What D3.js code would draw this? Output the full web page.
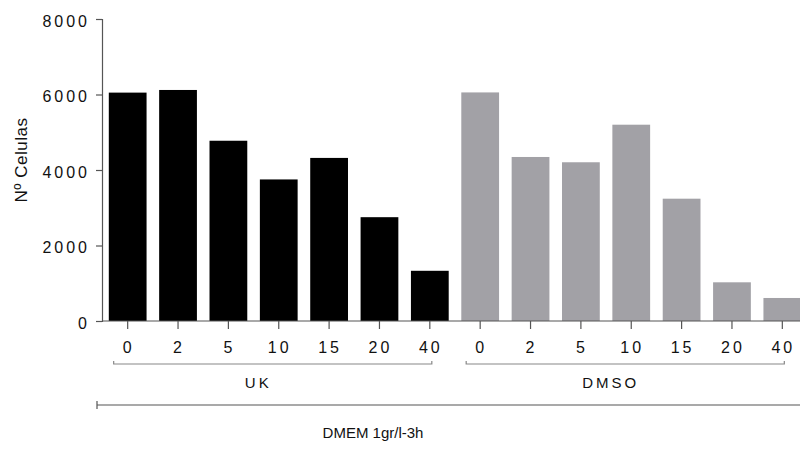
<!DOCTYPE html>
<html>
<head>
<meta charset="utf-8">
<script src="https://cdn.jsdelivr.net/npm/d3@7"></script>
<style>
  body { margin: 0; background: #fff; }
  text { font-family: "Liberation Sans", Arial, sans-serif; fill: #111; }
</style>
</head>
<body>
<svg id="vis" width="800" height="450"></svg>
<script>
// concentrations per treatment group
const doses = ["0", "2", "5", "10", "15", "20", "40"];
const groups = ["UK", "DMSO"];
const uk_values = [6050, 6120, 4775, 3750, 4320, 2750, 1330];
const dmso_values = [6055, 4345, 4205, 5200, 3240, 1025, 610];
const y_ticks = [0, 2000, 4000, 6000, 8000];
const colors = {UK: "#000000", DMSO: "#a2a1a6"};

const rows = [];
groups.forEach(g => {
    const vals = g === "UK" ? uk_values : dmso_values;
    doses.forEach((d, i) => rows.push({group: g, dose: d, key: g + "_" + d, value: vals[i]}));
});

const svg = d3.select("#vis");
const axis_col = "#555";
const font = "'Liberation Sans', Arial, sans-serif";

const x = d3.scaleBand()
    .domain(rows.map(r => r.key))
    .range([102.5, 807.5])
    .paddingInner(0.25)
    .paddingOuter(0.125);

const y = d3.scaleLinear().domain([0, 8000]).range([321, 19]);

svg.selectAll("rect.bar").data(rows)
    .join("rect")
    .attr("class", "bar")
    .attr("x", d => x(d.key))
    .attr("y", d => y(d.value))
    .attr("width", x.bandwidth())
    .attr("height", d => y(0) - y(d.value))
    .attr("fill", d => colors[d.group]);

// y axis
const yaxis = svg.append("g")
    .attr("transform", "translate(102,0)")
    .call(d3.axisLeft(y).tickValues(y_ticks).tickSize(6).tickPadding(6).tickFormat(d3.format("d")));
yaxis.select(".domain").attr("stroke", axis_col).attr("stroke-width", 1.2);
yaxis.selectAll(".tick line").attr("stroke", axis_col).attr("stroke-width", 1.2);
yaxis.selectAll(".tick text")
    .attr("font-size", 16)
    .attr("dy", "0.45em")
    .attr("letter-spacing", "3px")
    .attr("fill", "#111")
    .style("font-family", font);

// x axis
const xaxis = svg.append("g")
    .attr("transform", "translate(0,321)")
    .call(d3.axisBottom(x).tickSize(8).tickPadding(13).tickFormat(k => k.split("_")[1]).tickSizeOuter(0));
xaxis.select(".domain").attr("d", "M102,0H800").attr("stroke", axis_col).attr("stroke-width", 1.2);
xaxis.selectAll(".tick line").attr("stroke", axis_col).attr("stroke-width", 1.2);
xaxis.selectAll(".tick text")
    .attr("font-size", 16)
    .attr("dx", "1px")
    .attr("letter-spacing", "3px")
    .attr("fill", "#111")
    .style("font-family", font);

// group brackets
groups.forEach(g => {
    const keys = rows.filter(r => r.group === g).map(r => r.key);
    const c0 = x(keys[0]) + x.bandwidth() / 2;
    const c1 = x(keys[keys.length - 1]) + x.bandwidth() / 2;
    const x0 = c0 - 14;
    const x1 = c1 + 2;
    svg.append("path")
        .attr("d", `M${x0},361V364H${x1}V361`)
        .attr("fill", "none")
        .attr("stroke", "#888")
        .attr("stroke-width", 1.2);
    svg.append("text")
        .attr("x", (c0 + c1) / 2 - 22)
        .attr("y", 388)
        .attr("dx", "1.5px")
        .attr("text-anchor", "middle")
        .attr("font-size", 15)
        .attr("letter-spacing", "3px")
        .text(g);
});

// overall bracket
svg.append("path")
    .attr("d", "M97,401V409M97,405H800")
    .attr("fill", "none")
    .attr("stroke", axis_col)
    .attr("stroke-width", 1.2);
svg.append("text")
    .attr("x", 373)
    .attr("y", 438)
    .attr("text-anchor", "middle")
    .attr("font-size", 15)
    .text("DMEM 1gr/l-3h");

svg.append("text")
    .attr("transform", "translate(26.5,160) rotate(-90)")
    .attr("text-anchor", "middle")
    .attr("font-size", 17)
    .attr("letter-spacing", "0.5px")
    .text("Nº Celulas");
</script>
</body>
</html>
